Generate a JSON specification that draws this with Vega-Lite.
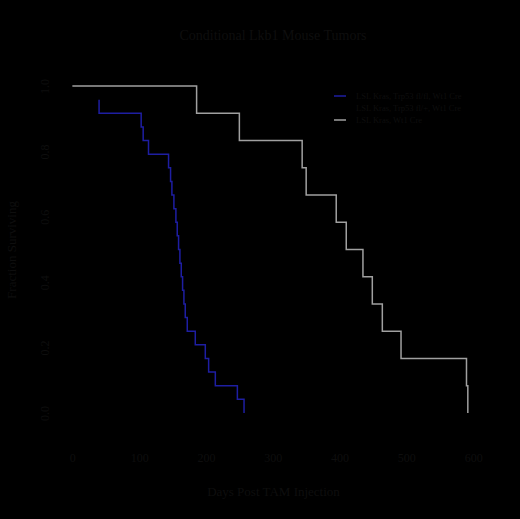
{
  "$schema": "https://vega.github.io/schema/vega-lite/v6.json",
  "autosize": "none",
  "width": 428,
  "height": 353,
  "padding": {"left": 59, "top": 73, "right": 33, "bottom": 93},
  "background": "#000000",
  "config": {
    "view": {"stroke": null},
    "font": "Liberation Serif",
    "axis": {"grid": false, "domain": false, "ticks": false, "labelColor": "#0e0e0e", "titleColor": "#0e0e0e", "labelFont": "Liberation Serif", "titleFont": "Liberation Serif", "labelFontSize": 12, "titleFontSize": 13, "titleFontWeight": "normal"}
  },
  "title": {"text": "Conditional Lkb1 Mouse Tumors", "color": "#0e0e0e", "fontSize": 14, "fontWeight": "normal", "font": "Liberation Serif", "offset": 30, "anchor": "middle"},
  "data": {
    "values": [
      {"series": "LSL Kras, Trp53 fl/fl, Wt1 Cre", "day": 40, "surv": 0.9583},
      {"series": "LSL Kras, Trp53 fl/fl, Wt1 Cre", "day": 40, "surv": 0.9167},
      {"series": "LSL Kras, Trp53 fl/fl, Wt1 Cre", "day": 103, "surv": 0.875},
      {"series": "LSL Kras, Trp53 fl/fl, Wt1 Cre", "day": 106, "surv": 0.8333},
      {"series": "LSL Kras, Trp53 fl/fl, Wt1 Cre", "day": 114, "surv": 0.7917},
      {"series": "LSL Kras, Trp53 fl/fl, Wt1 Cre", "day": 144, "surv": 0.75},
      {"series": "LSL Kras, Trp53 fl/fl, Wt1 Cre", "day": 147, "surv": 0.7083},
      {"series": "LSL Kras, Trp53 fl/fl, Wt1 Cre", "day": 149, "surv": 0.6667},
      {"series": "LSL Kras, Trp53 fl/fl, Wt1 Cre", "day": 152, "surv": 0.625},
      {"series": "LSL Kras, Trp53 fl/fl, Wt1 Cre", "day": 155, "surv": 0.5833},
      {"series": "LSL Kras, Trp53 fl/fl, Wt1 Cre", "day": 157, "surv": 0.5417},
      {"series": "LSL Kras, Trp53 fl/fl, Wt1 Cre", "day": 159, "surv": 0.5},
      {"series": "LSL Kras, Trp53 fl/fl, Wt1 Cre", "day": 161, "surv": 0.4583},
      {"series": "LSL Kras, Trp53 fl/fl, Wt1 Cre", "day": 163, "surv": 0.4167},
      {"series": "LSL Kras, Trp53 fl/fl, Wt1 Cre", "day": 165, "surv": 0.375},
      {"series": "LSL Kras, Trp53 fl/fl, Wt1 Cre", "day": 167, "surv": 0.3333},
      {"series": "LSL Kras, Trp53 fl/fl, Wt1 Cre", "day": 169, "surv": 0.2917},
      {"series": "LSL Kras, Trp53 fl/fl, Wt1 Cre", "day": 172, "surv": 0.25},
      {"series": "LSL Kras, Trp53 fl/fl, Wt1 Cre", "day": 184, "surv": 0.2083},
      {"series": "LSL Kras, Trp53 fl/fl, Wt1 Cre", "day": 199, "surv": 0.1667},
      {"series": "LSL Kras, Trp53 fl/fl, Wt1 Cre", "day": 204, "surv": 0.125},
      {"series": "LSL Kras, Trp53 fl/fl, Wt1 Cre", "day": 214, "surv": 0.0833},
      {"series": "LSL Kras, Trp53 fl/fl, Wt1 Cre", "day": 247, "surv": 0.0417},
      {"series": "LSL Kras, Trp53 fl/fl, Wt1 Cre", "day": 257, "surv": 0},
      {"series": "LSL Kras, Wt1 Cre", "day": 0, "surv": 1},
      {"series": "LSL Kras, Wt1 Cre", "day": 186, "surv": 0.9167},
      {"series": "LSL Kras, Wt1 Cre", "day": 250, "surv": 0.8333},
      {"series": "LSL Kras, Wt1 Cre", "day": 344, "surv": 0.75},
      {"series": "LSL Kras, Wt1 Cre", "day": 350, "surv": 0.6667},
      {"series": "LSL Kras, Wt1 Cre", "day": 395, "surv": 0.5833},
      {"series": "LSL Kras, Wt1 Cre", "day": 410, "surv": 0.5},
      {"series": "LSL Kras, Wt1 Cre", "day": 435, "surv": 0.4167},
      {"series": "LSL Kras, Wt1 Cre", "day": 449, "surv": 0.3333},
      {"series": "LSL Kras, Wt1 Cre", "day": 464, "surv": 0.25},
      {"series": "LSL Kras, Wt1 Cre", "day": 492, "surv": 0.1667},
      {"series": "LSL Kras, Wt1 Cre", "day": 590, "surv": 0.0833},
      {"series": "LSL Kras, Wt1 Cre", "day": 592, "surv": 0}
    ]
  },
  "mark": {"type": "line", "interpolate": "step-after", "strokeWidth": 1.5},
  "encoding": {
    "x": {
      "field": "day", "type": "quantitative",
      "scale": {"domain": [-20, 620.7], "nice": false, "zero": false},
      "axis": {"values": [0, 100, 200, 300, 400, 500, 600], "labelPadding": 26, "titlePadding": 22, "title": "Days Post TAM Injection", "labelFlush": false}
    },
    "y": {
      "field": "surv", "type": "quantitative",
      "scale": {"domain": [-0.04, 1.04], "nice": false, "zero": false},
      "axis": {"values": [0, 0.2, 0.4, 0.6, 0.8, 1], "format": ".1f", "labelAngle": -90, "labelPadding": 8, "titlePadding": 20, "title": "Fraction Surviving", "labelFlush": false}
    },
    "color": {
      "field": "series", "type": "nominal",
      "scale": {
        "domain": ["LSL Kras, Trp53 fl/fl, Wt1 Cre", "LSL Kras, Trp53 fl/+, Wt1 Cre", "LSL Kras, Wt1 Cre"],
        "range": ["#1e1ea2", "#000000", "#a0a0a0"]
      },
      "legend": {
        "title": null, "orient": "none", "legendX": 274, "legendY": 16,
        "symbolType": "stroke", "symbolSize": 144, "symbolStrokeWidth": 1.5,
        "labelFontSize": 8.5, "labelColor": "#0e0e0e", "labelFont": "Liberation Serif",
        "rowPadding": -6, "labelOffset": 9, "labelLimit": 300
      }
    }
  }
}
